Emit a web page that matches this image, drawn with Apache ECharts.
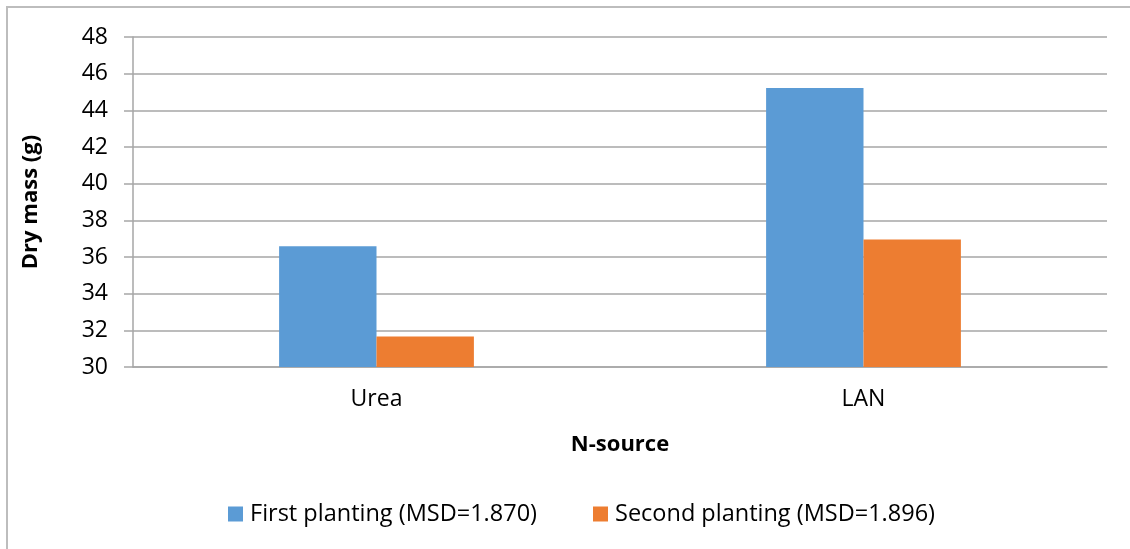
<!DOCTYPE html>
<html>
<head>
<meta charset="utf-8">
<script src="https://cdn.jsdelivr.net/npm/echarts@6/dist/echarts.min.js"></script>
<style>
html,body{margin:0;padding:0;background:#fff;}
#chart{width:1130px;height:549px;}
</style>
</head>
<body>
<div id="chart"></div>
<script>
const categories = ['Urea', 'LAN'];
const seriesNames = ['First planting (MSD=1.870)', 'Second planting (MSD=1.896)'];
const firstPlanting = [36.58, 45.22];
const secondPlanting = [31.67, 36.96];
const yTicks = { min: 30, max: 48, interval: 2 };

const FONT = '"Open Sans", "Liberation Sans", sans-serif';
const chart = echarts.init(document.getElementById('chart'));
chart.setOption({
  animation: false,
  backgroundColor: '#fff',
  textStyle: { fontFamily: FONT, color: '#000' },
  graphic: [{
    type: 'rect',
    shape: { x: 7, y: 7, width: 1140, height: 560 },
    style: { fill: 'none', stroke: '#bdbdbd', lineWidth: 2 },
    silent: true
  }],
  grid: { left: 133, right: 23, top: 37, bottom: 182, containLabel: false },
  legend: {
    data: seriesNames,
    bottom: 18,
    left: 223,
    icon: 'rect',
    itemWidth: 15,
    itemHeight: 15,
    itemGap: 56,
    textStyle: { fontFamily: FONT, fontSize: 23.5, color: '#000', padding: [0, 0, 0, 2] }
  },
  xAxis: {
    type: 'category',
    data: categories,
    name: 'N-source',
    nameLocation: 'middle',
    nameGap: 67,
    nameTextStyle: { fontFamily: FONT, fontSize: 22, fontWeight: 'bold', color: '#000' },
    axisLine: { lineStyle: { color: '#a6a6a6', width: 1.5 } },
    axisTick: { show: false },
    axisLabel: { fontFamily: FONT, fontSize: 23, color: '#000', margin: 21 }
  },
  yAxis: {
    type: 'value',
    min: yTicks.min,
    max: yTicks.max,
    interval: yTicks.interval,
    name: 'Dry mass (g)',
    nameLocation: 'middle',
    nameRotate: 90,
    nameGap: 91,
    nameTextStyle: { fontFamily: FONT, fontSize: 22, fontWeight: 'bold', color: '#000' },
    axisLine: { show: true, lineStyle: { color: '#a6a6a6', width: 1.5 } },
    axisTick: { show: true, length: 9, lineStyle: { color: '#a6a6a6', width: 1.5 } },
    axisLabel: { fontFamily: FONT, fontSize: 23, color: '#000', margin: 25 },
    splitLine: { lineStyle: { color: '#a6a6a6', width: 1.5 } }
  },
  series: [
    {
      name: seriesNames[0],
      type: 'bar',
      data: firstPlanting,
      barWidth: '20%',
      barGap: '0%',
      itemStyle: { color: '#5b9bd5' }
    },
    {
      name: seriesNames[1],
      type: 'bar',
      data: secondPlanting,
      barWidth: '20%',
      barGap: '0%',
      itemStyle: { color: '#ed7d31' }
    }
  ]
});
</script>
</body>
</html>
